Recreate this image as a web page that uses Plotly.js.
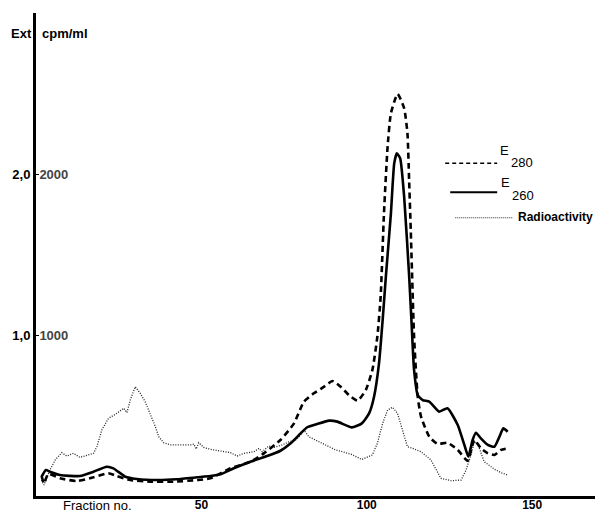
<!DOCTYPE html>
<html>
<head>
<meta charset="utf-8">
<script src="https://cdn.plot.ly/plotly-3.0.1.min.js"></script>
<style>
  html, body { margin: 0; padding: 0; background: #fff; }
  #chart { width: 607px; height: 515px; }
</style>
</head>
<body>
<div id="chart"></div>
<script>
// ---- Data (fraction number vs. value) ----
// E280 (extinction, left "Ext" scale)
var e280Fraction = [1.7, 2.4, 3.7, 7.3, 12.3, 17.4, 21.9, 24.4, 28.5, 34.5, 41.6, 48.7, 52.7, 58.8, 64.8, 68.9, 73.9, 78, 81, 84, 87.1, 89.6, 92.1, 94.6, 97.2, 99.7, 101.7, 103.2, 104.2, 105.2, 106.3, 107.3, 109.3, 111.3, 112.3, 112.8, 113.3, 114.3, 115.4, 116.4, 118.9, 121.4, 124.4, 127.5, 130.5, 132.5, 134.5, 136.6, 138.6, 140.6, 142.6];
var e280Ext      = [0.124, 0.079, 0.137, 0.110, 0.093, 0.116, 0.141, 0.124, 0.099, 0.089, 0.089, 0.099, 0.110, 0.172, 0.213, 0.265, 0.348, 0.451, 0.586, 0.638, 0.679, 0.714, 0.679, 0.627, 0.592, 0.658, 0.783, 0.990, 1.238, 1.756, 2.170, 2.377, 2.497, 2.408, 2.253, 1.963, 1.652, 0.990, 0.617, 0.493, 0.368, 0.323, 0.331, 0.286, 0.219, 0.348, 0.296, 0.265, 0.255, 0.286, 0.296];

// E260 (extinction, left "Ext" scale)
var e260Fraction = [1.7, 3.0, 4.2, 7.3, 13.3, 17.4, 21.4, 23.4, 27, 30.5, 36.6, 42.6, 48.7, 52.7, 55.8, 59.8, 64.8, 69.9, 73.9, 77, 80, 82, 85, 88.6, 91.1, 95.5, 98.5, 100.7, 102.2, 103.7, 104.8, 105.8, 107.3, 108.3, 109.1, 110.1, 111.3, 112.8, 113.5, 114.3, 115.4, 116.9, 118.9, 121.9, 124.4, 127.5, 129.5, 130.7, 132, 133, 134.5, 136.6, 138.6, 140.1, 141.3, 142.6];
var e260Ext      = [0.120, 0.161, 0.151, 0.130, 0.124, 0.151, 0.182, 0.172, 0.120, 0.106, 0.099, 0.104, 0.116, 0.124, 0.135, 0.172, 0.213, 0.248, 0.281, 0.327, 0.389, 0.427, 0.447, 0.468, 0.462, 0.426, 0.451, 0.513, 0.617, 0.824, 1.093, 1.370, 1.756, 2.066, 2.128, 2.097, 1.859, 1.370, 1.093, 0.783, 0.627, 0.596, 0.586, 0.524, 0.545, 0.441, 0.317, 0.244, 0.348, 0.393, 0.358, 0.317, 0.306, 0.368, 0.420, 0.399];

// Radioactivity (cpm/ml, right-hand scale)
var radioFraction = [1.7, 2.4, 4.2, 5.8, 7.8, 9.3, 11.3, 13.3, 17.4, 18.4, 19.9, 21.9, 24.4, 26.5, 27.5, 28.5, 30, 31.5, 33, 34.5, 36.1, 37.1, 38.6, 40.6, 46.7, 47.7, 48.4, 49.2, 50.7, 52.7, 55.8, 58.8, 60.8, 62.8, 65.9, 67.4, 68.4, 70.4, 71.9, 74.4, 76.5, 78.5, 80, 81, 82.5, 84.5, 86.6, 88.6, 90.6, 92.6, 95.2, 98.5, 101.7, 103.2, 104.8, 106.3, 107.8, 109.3, 110.8, 112.3, 113.8, 116.4, 119.4, 122.4, 125.5, 128.5, 130, 131.5, 132.5, 133.5, 135.5, 138.6, 140.6, 142.6];
var radioCpm      = [99, 68, 161, 224, 269, 248, 265, 240, 265, 306, 410, 482, 513, 545, 518, 596, 679, 638, 586, 513, 430, 368, 331, 317, 317, 323, 292, 331, 302, 290, 279, 269, 248, 265, 275, 296, 275, 311, 302, 317, 337, 348, 379, 410, 368, 348, 327, 306, 286, 275, 260, 227, 255, 327, 451, 534, 551, 513, 410, 306, 296, 275, 224, 110, 95, 99, 161, 255, 337, 327, 213, 166, 145, 130];

// Axis tick labels
var xTickVals = [50, 100, 150];
var xTickText = ['50', '100', '150'];
var cpmTickVals = [1000, 2000];
var cpmTickText = ['1000', '2000'];
var extTickVals = [1, 2];
var extTickText = ['1,0', '2,0'];

var FONT = 'Liberation Sans, Arial, sans-serif';

var traces = [
  { x: e280Fraction, y: e280Ext, yaxis: 'y2', type: 'scatter', mode: 'lines', name: 'E280',
    line: { color: '#000', width: 2.6, dash: '6px,4px', shape: 'spline', smoothing: 0.5 }, showlegend: false },
  { x: e260Fraction, y: e260Ext, yaxis: 'y2', type: 'scatter', mode: 'lines', name: 'E260',
    line: { color: '#000', width: 2.6, shape: 'spline', smoothing: 0.5 }, showlegend: false },
  { x: radioFraction, y: radioCpm, yaxis: 'y', type: 'scatter', mode: 'lines', name: 'Radioactivity',
    line: { color: '#222', width: 1.3, dash: '1px,1.5px' }, showlegend: false }
];

var layout = {
  width: 607, height: 515,
  margin: { l: 36, r: 12, t: 13, b: 19 },
  paper_bgcolor: '#fff', plot_bgcolor: '#fff',
  font: { family: FONT, color: '#000', size: 13 },
  showlegend: false,
  xaxis: {
    range: [0, 169], showgrid: false, zeroline: false,
    showline: true, linecolor: '#000', linewidth: 3,
    tickvals: xTickVals, ticktext: xTickText, ticks: '',
    ticklabelstandoff: -4,
    tickfont: { family: FONT, size: 12, weight: 'bold' }
  },
  yaxis: {
    range: [0, 3000], showgrid: false, zeroline: false,
    showline: true, linecolor: '#000', linewidth: 3,
    tickvals: cpmTickVals, ticktext: cpmTickText,
    ticks: 'inside', ticklen: 3, tickcolor: '#000',
    ticklabelposition: 'inside', ticklabelstandoff: 0,
    tickfont: { family: FONT, size: 13, weight: 'bold' }
  },
  yaxis2: {
    range: [0, 3], overlaying: 'y', side: 'left', anchor: 'x',
    showgrid: false, zeroline: false, showline: false,
    tickvals: extTickVals, ticktext: extTickText,
    ticks: 'outside', ticklen: 2, tickcolor: '#000',
    tickfont: { family: FONT, size: 13, weight: 'bold' }
  },
  shapes: [
    { type: 'line', xref: 'paper', yref: 'paper', x0: 0.732, x1: 0.825, y0: 0.689, y1: 0.689,
      line: { color: '#000', width: 1.6, dash: '4px,3px' } },
    { type: 'line', xref: 'paper', yref: 'paper', x0: 0.741, x1: 0.825, y0: 0.629, y1: 0.629,
      line: { color: '#000', width: 2 } },
    { type: 'line', xref: 'paper', yref: 'paper', x0: 0.750, x1: 0.853, y0: 0.576, y1: 0.576,
      line: { color: '#333', width: 1.1, dash: '1px,1px' } }
  ],
  annotations: [
    { text: 'Ext', xref: 'paper', yref: 'paper', x: -0.004, y: 0.957, xanchor: 'right', yanchor: 'middle',
      showarrow: false, font: { family: FONT, size: 13, weight: 'bold' } },
    { text: 'cpm/ml', xref: 'paper', yref: 'paper', x: 0.007, y: 0.957, xanchor: 'left', yanchor: 'middle',
      showarrow: false, font: { family: FONT, size: 13, weight: 'bold' } },
    { text: 'Fraction no.', xref: 'paper', yref: 'paper', x: 0.11, y: -0.02, xanchor: 'center', yanchor: 'middle',
      showarrow: false, font: { family: FONT, size: 13 } },
    { text: 'E', xref: 'paper', yref: 'paper', x: 0.827, y: 0.716, xanchor: 'left', yanchor: 'middle',
      showarrow: false, font: { family: FONT, size: 13 } },
    { text: '280', xref: 'paper', yref: 'paper', x: 0.846, y: 0.690, xanchor: 'left', yanchor: 'middle',
      showarrow: false, font: { family: FONT, size: 13 } },
    { text: 'E', xref: 'paper', yref: 'paper', x: 0.829, y: 0.650, xanchor: 'left', yanchor: 'middle',
      showarrow: false, font: { family: FONT, size: 13 } },
    { text: '260', xref: 'paper', yref: 'paper', x: 0.848, y: 0.622, xanchor: 'left', yanchor: 'middle',
      showarrow: false, font: { family: FONT, size: 13 } },
    { text: 'Radioactivity', xref: 'paper', yref: 'paper', x: 0.858, y: 0.578, xanchor: 'left', yanchor: 'middle',
      showarrow: false, font: { family: FONT, size: 12, weight: 'bold' } }
  ]
};

Plotly.newPlot('chart', traces, layout, { displayModeBar: false, staticPlot: true });
</script>
</body>
</html>
